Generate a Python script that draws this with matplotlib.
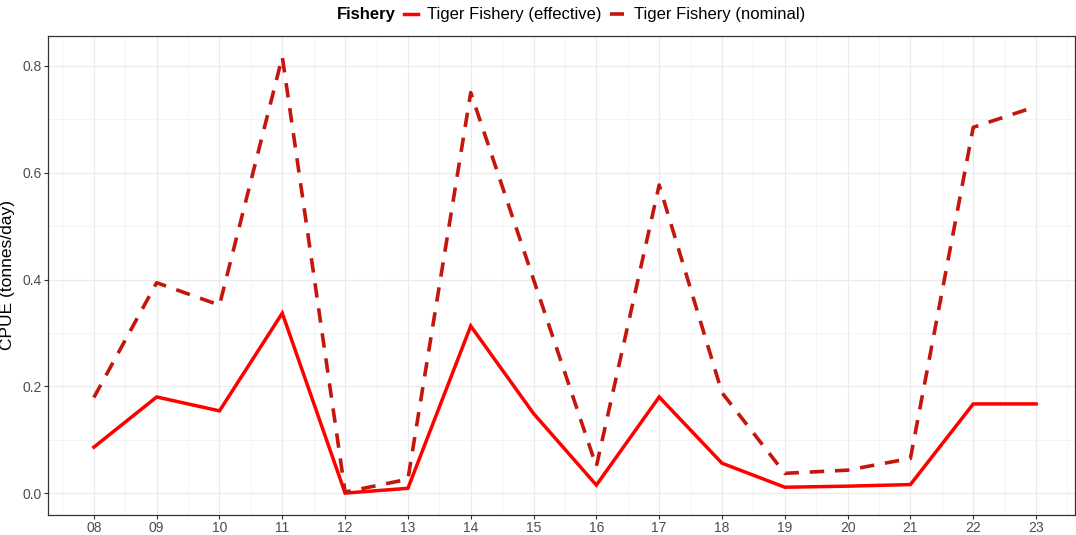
import numpy as np
import matplotlib.pyplot as plt
from matplotlib.ticker import MultipleLocator

plt.rcParams['font.family'] = ['Liberation Sans', 'DejaVu Sans']

# CPUE by year (two-digit labels)
years = np.arange(8, 24)
year_labels = [f"{y:02d}" for y in years]
cpue_effective = [0.086, 0.180, 0.154, 0.337, 0.0, 0.009, 0.313, 0.149,
                  0.015, 0.180, 0.056, 0.011, 0.013, 0.016, 0.167, 0.167]
cpue_nominal = [0.179, 0.394, 0.352, 0.817, 0.002, 0.026, 0.750, 0.400,
                0.050, 0.577, 0.188, 0.037, 0.043, 0.065, 0.685, 0.724]

fig = plt.figure(figsize=(10.76, 5.35), dpi=100)
ax = fig.add_axes([48 / 1076, 1 - 515 / 535, (1075 - 48) / 1076, (515 - 36) / 535])

l1, = ax.plot(years, cpue_effective, color='#ff0000', lw=2.5,
              solid_joinstyle='miter', label='Tiger Fishery (effective)')
l2, = ax.plot(years, cpue_nominal, color='#c4160c', lw=2.6, dashes=(4, 3),
              label='Tiger Fishery (nominal)')

ax.set_xlim(7.27, 23.62)
ax.set_ylim(-0.041, 0.856)
ax.set_xticks(years)
ax.set_xticklabels(year_labels)
ax.xaxis.set_minor_locator(MultipleLocator(0.5))
ax.yaxis.set_major_locator(MultipleLocator(0.2))
ax.yaxis.set_minor_locator(MultipleLocator(0.1))
ax.grid(which='major', color='#ebebeb', lw=0.9)
ax.grid(which='minor', color='#f2f2f2', lw=0.6)
ax.set_axisbelow(True)
ax.tick_params(which='major', colors='#333333', labelcolor='#4d4d4d',
               labelsize=10, length=3, width=0.8, pad=1.5)
ax.tick_params(axis='x', which='major', pad=1)
ax.tick_params(which='minor', length=0)
for s in ax.spines.values():
    s.set_color('#333333')
    s.set_linewidth(0.9)
ax.set_ylabel('CPUE (tonnes/day)', fontsize=12.5)
ax.yaxis.set_label_coords(-0.032, 0.5)

fig.text(337 / 1076, 1 - 15 / 535, 'Fishery', fontsize=12, fontweight='bold',
         ha='left', va='center')
fig.legend(handles=[l1, l2], ncol=2, loc='center left',
           bbox_to_anchor=(404 / 1076, 1 - 15 / 535), frameon=False,
           fontsize=12, handlelength=0.85, handletextpad=0.55, columnspacing=0.5,
           borderaxespad=0, borderpad=0)

fig.savefig('out.png', dpi=100)
